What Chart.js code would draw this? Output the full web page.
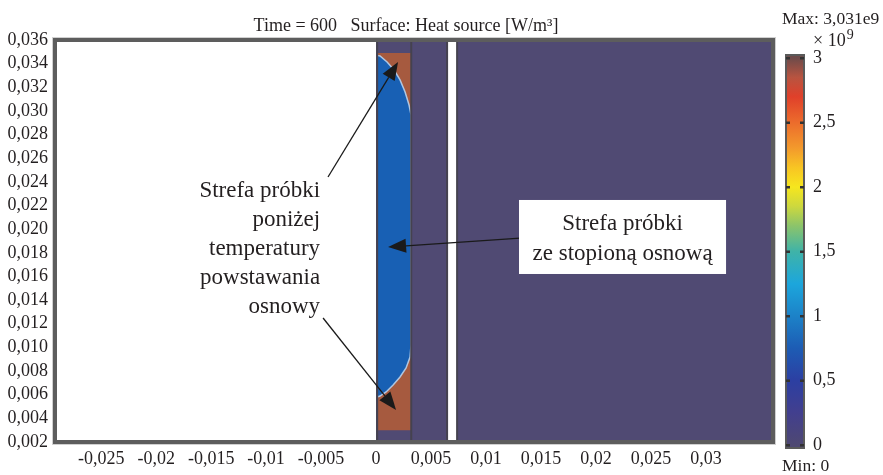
<!DOCTYPE html>
<html><head><meta charset="utf-8">
<script src="https://cdn.jsdelivr.net/npm/chart.js@4.4.0/dist/chart.umd.min.js"></script>
<style>html,body{margin:0;padding:0;background:#fff;overflow:hidden;}</style>
</head><body>
<canvas id="c" width="883" height="475"></canvas>
<script>
// ---------- data ----------
const xTickValues = [-0.025,-0.02,-0.015,-0.01,-0.005,0,0.005,0.01,0.015,0.02,0.025,0.03];
const xTickLabels = ['-0,025','-0,02','-0,015','-0,01','-0,005','0','0,005','0,01','0,015','0,02','0,025','0,03'];
const yTickValues = [0.002,0.004,0.006,0.008,0.010,0.012,0.014,0.016,0.018,0.020,0.022,0.024,0.026,0.028,0.030,0.032,0.034,0.036];
const yTickLabels = ['0,002','0,004','0,006','0,008','0,010','0,012','0,014','0,016','0,018','0,020','0,022','0,024','0,026','0,028','0,030','0,032','0,034','0,036'];

const domainX = [-0.0292, 0.0361];
const domainY = [0.002, 0.036];
const matrixX = [0, 0.0361];          // region with molten matrix (value ~0)
const gapX = [0.00646, 0.00737];      // white gap
const stripX = [0.0001, 0.0032];      // sample strip
const brownY = [0.0030, 0.0349];      // strip at heat source max (~3e9)
const edgeX = [0.0001, 0.0032, 0.00646, 0.00737];
// boundary of the zone below matrix formation temperature (blue)
const blueX = [0.0001, 0.00036, 0.0010, 0.00164, 0.00218, 0.00264, 0.0030, 0.00318, 0.00318, 0.00309, 0.00273, 0.00218, 0.00155, 0.00091, 0.00036, 0.0001];
const blueY = [0.0347, 0.03465, 0.03414, 0.03346, 0.03262, 0.0316, 0.0305, 0.02966, 0.0102, 0.00919, 0.00826, 0.0075, 0.00682, 0.00623, 0.00589, 0.00581];

const cbarTickValues = [0, 0.5, 1, 1.5, 2, 2.5, 3];
const cbarTickLabels = ['0', '0,5', '1', '1,5', '2', '2,5', '3'];
const cbarStopValues = [0, 0.25, 0.5, 0.75, 1.0, 1.25, 1.5, 1.7, 1.85, 2.0, 2.15, 2.3, 2.5, 2.7, 2.85, 3.0];
const cbarStopColors = ['#4e4872','#423f8e','#2c3fa2','#1d5cb4','#1c82c8','#1ca6dc','#3fb3a8','#8cc46a','#cdd83e','#f6e61e','#f8c523','#f39a2c','#ec6c2c','#e0402a','#b85440','#6e4b4a'];

const titleText = 'Time = 600   Surface: Heat source [W/m\u00B3]';
const maxText = 'Max: 3,031e9';
const minText = 'Min: 0';
const leftNote = ['Strefa próbki', 'poniżej', 'temperatury', 'powstawania', 'osnowy'];
const boxNote = ['Strefa próbki', 'ze stopioną osnową'];

// ---------- styles ----------
const SERIF = '"Liberation Serif", "DejaVu Serif", serif';
const PURPLE = '#504a73';
const BROWN = '#a65a3f';
const BLUE = '#1860b4';
const TXT = '#231f20';

function rectDataset(xr, yr, color) {
  return { data: [{x: xr[0], y: yr[1]}, {x: xr[1], y: yr[1]}], fill: {value: yr[0]},
    backgroundColor: color, borderColor: 'transparent', borderWidth: 0, pointRadius: 0, tension: 0 };
}
function vline(x, yr, color, w) {
  return { data: [{x: x, y: yr[0]}, {x: x, y: yr[1]}], fill: false,
    borderColor: color, borderWidth: w, pointRadius: 0, tension: 0 };
}

const layers = [
  rectDataset(matrixX, domainY, PURPLE),
  rectDataset(gapX, domainY, '#ffffff'),
  rectDataset(stripX, brownY, BROWN),
  { data: blueX.map((x, i) => ({x: x, y: blueY[i]})), fill: 'shape', backgroundColor: BLUE,
    borderColor: 'rgba(185,210,235,0.9)', borderWidth: 1.5, pointRadius: 0, tension: 0 },
  ...edgeX.map(x => vline(x, domainY, '#45424f', 2))
];
// bottom layer gets highest order (drawn first)
layers.forEach((d, i) => { d.order = layers.length - i; });

function P(chart, x, y) {
  return [chart.scales.x.getPixelForValue(x), chart.scales.y.getPixelForValue(y)];
}
function arrow(ctx, a, b) {
  const ang = Math.atan2(b[1] - a[1], b[0] - a[0]);
  const L = 18, W = 7;
  const bx = b[0] - L * Math.cos(ang), by = b[1] - L * Math.sin(ang);
  ctx.beginPath(); ctx.moveTo(a[0], a[1]); ctx.lineTo(bx, by);
  ctx.strokeStyle = '#1a1a1a'; ctx.lineWidth = 1.3; ctx.stroke();
  ctx.beginPath(); ctx.moveTo(b[0], b[1]);
  ctx.lineTo(bx + W * Math.sin(ang), by - W * Math.cos(ang));
  ctx.lineTo(bx - W * Math.sin(ang), by + W * Math.cos(ang));
  ctx.closePath(); ctx.fillStyle = '#1a1a1a'; ctx.fill();
}

const decor = {
  id: 'decor',
  afterDraw(chart) {
    const ctx = chart.ctx, a = chart.chartArea;
    ctx.save();
    // frame
    ctx.strokeStyle = '#5d5d5d'; ctx.lineWidth = 4;
    ctx.strokeRect(a.left, a.top, a.right - a.left, a.bottom - a.top);
    ctx.strokeStyle = 'rgba(120,120,120,0.35)'; ctx.lineWidth = 1;
    ctx.strokeRect(a.left - 2.5, a.top - 2.5, a.right - a.left + 5, a.bottom - a.top + 5);

    // title
    ctx.fillStyle = TXT; ctx.font = '18px ' + SERIF;
    ctx.textAlign = 'center'; ctx.textBaseline = 'alphabetic';
    ctx.fillText(titleText, 406, 31);

    // annotations
    arrow(ctx, P(chart, -0.00437, 0.02441), P(chart, 0.0020, 0.03414));
    arrow(ctx, P(chart, -0.00482, 0.01249), P(chart, 0.00182, 0.00471));
    arrow(ctx, P(chart, 0.0131, 0.01925), P(chart, 0.00109, 0.01849));
    ctx.font = '23px ' + SERIF; ctx.fillStyle = TXT; ctx.textAlign = 'right';
    const ly = [0.02272, 0.02027, 0.01782, 0.01536, 0.01291];
    leftNote.forEach((t, i) => { const p = P(chart, -0.00509, ly[i]); ctx.fillText(t, p[0], p[1]); });
    const b0 = P(chart, 0.0130, 0.02247), b1 = P(chart, 0.03183, 0.01621);
    ctx.fillStyle = '#ffffff'; ctx.fillRect(b0[0], b0[1], b1[0] - b0[0], b1[1] - b0[1]);
    ctx.fillStyle = TXT; ctx.textAlign = 'center';
    const by = [0.01993, 0.01739];
    boxNote.forEach((t, i) => { const p = P(chart, 0.02242, by[i]); ctx.fillText(t, p[0], p[1]); });

    // colour bar
    const cx0 = 786, cw = 18, v0y = 445, v3y = 58;
    const vy = v => v0y + (v3y - v0y) * v / 3;
    const g = ctx.createLinearGradient(0, v0y, 0, v3y);
    cbarStopValues.forEach((v, i) => g.addColorStop(v / 3, cbarStopColors[i]));
    ctx.fillStyle = g; ctx.fillRect(cx0, 55, cw, 393);
    ctx.strokeStyle = '#5a5a5a'; ctx.lineWidth = 2; ctx.strokeRect(cx0, 55, cw, 393);
    ctx.fillStyle = '#333';
    cbarTickValues.forEach(v => { const y = vy(v); ctx.fillRect(cx0, y - 1, 4, 2.5); ctx.fillRect(cx0 + cw - 4, y - 1, 4, 2.5); });
    ctx.fillStyle = TXT; ctx.font = '18px ' + SERIF; ctx.textAlign = 'left'; ctx.textBaseline = 'middle';
    cbarTickValues.forEach((v, i) => ctx.fillText(cbarTickLabels[i], 813, vy(v)));
    ctx.textBaseline = 'alphabetic';
    ctx.font = '17.5px ' + SERIF;
    ctx.fillText(maxText, 782, 24);
    ctx.font = '18px ' + SERIF;
    ctx.fillText('\u00D7 10', 813, 46);
    const w10 = ctx.measureText('\u00D7 10').width;
    ctx.font = '14px ' + SERIF; ctx.fillText('9', 813 + w10 + 1, 39);
    ctx.font = '17.5px ' + SERIF; ctx.fillText(minText, 782, 471);
    ctx.restore();
  }
};

new Chart(document.getElementById('c'), {
  type: 'line',
  data: { datasets: layers },
  options: {
    responsive: false, animation: false, devicePixelRatio: 1,
    layout: { padding: { left: 0, right: 110, top: 40, bottom: 0 } },
    plugins: { legend: { display: false }, tooltip: { enabled: false }, title: { display: false } },
    scales: {
      x: {
        type: 'linear', min: domainX[0], max: domainX[1],
        grid: { display: false, drawTicks: false }, border: { display: false },
        afterBuildTicks: s => { s.ticks = xTickValues.map(v => ({value: v})); },
        afterFit: s => { s.height = 33; },
        ticks: { autoSkip: false, maxRotation: 0, padding: 6, color: TXT,
          font: { family: SERIF, size: 18 }, callback: (v, i) => xTickLabels[i] }
      },
      y: {
        type: 'linear', min: domainY[0], max: domainY[1],
        grid: { display: false, drawTicks: false }, border: { display: false },
        afterBuildTicks: s => { s.ticks = yTickValues.map(v => ({value: v})); },
        afterFit: s => { s.width = 55; },
        ticks: { autoSkip: false, padding: 7, color: TXT,
          font: { family: SERIF, size: 18 }, callback: (v, i) => yTickLabels[i] }
      }
    }
  },
  plugins: [decor]
});
</script>
</body></html>
